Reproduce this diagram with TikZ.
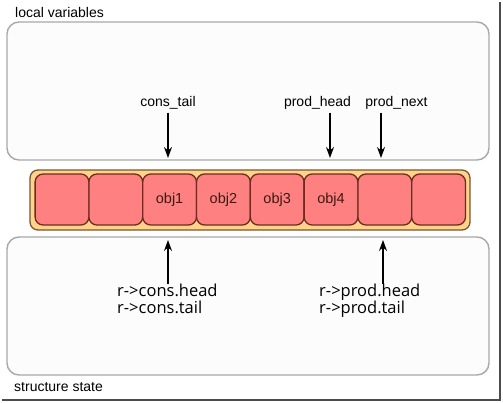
\documentclass[tikz,border=0pt]{standalone}
\usepackage{fontspec}
\setmainfont{Liberation Sans}
\newfontfamily\yafont{Open Sans}
\usetikzlibrary{arrows.meta}

\definecolor{boxline}{HTML}{A8A8A8}
\definecolor{boxfill}{HTML}{FCFCFC}
\definecolor{bandfill}{HTML}{FFD38A}
\definecolor{bandline}{HTML}{7A5630}
\definecolor{cellfill}{HTML}{FF8080}
\definecolor{cellline}{HTML}{6B2E1E}
\definecolor{celltext}{HTML}{3A1A14}

\begin{document}
\begin{tikzpicture}[x=1pt,y=-1pt,
    area/.style={draw=boxline,fill=boxfill,line width=1.4pt,rounded corners=12pt},
    cell/.style={draw=cellline,fill=cellfill,line width=1.3pt,rounded corners=8pt,
      minimum width=53.8pt,minimum height=51pt,inner sep=0pt,outer sep=0pt,
      font=\fontsize{14.5}{16}\selectfont,text=celltext},
    lbl/.style={font=\fontsize{14}{16}\selectfont,inner sep=3pt},
    state/.style={font=\yafont\fontsize{16.5}{17.5}\selectfont,align=left,inner sep=0pt,anchor=north west},
    ptr/.style={-{Stealth[length=11pt,width=8pt]},line width=1.2pt}]
    \useasboundingbox (0,0) rectangle (503,402);

    % frame shadow
    \draw[line width=2pt,gray!60!black] (499.5,2) -- (499.5,399.5) -- (2,399.5);

    \coordinate (T1) at (168,158);
    \coordinate (T2) at (330,158);
    \coordinate (T3) at (381,158);
    \coordinate (B1) at (168,240);
    \coordinate (B2) at (383,240);

    \node[area,minimum width=482pt,minimum height=138pt] (LOCAL) at (248,91) { };
    \node[area,minimum width=482pt,minimum height=138pt] (STATE) at (248,306) { };
    \node[lbl,anchor=west] (LV) at (12,12) { local variables };
    \node[lbl,anchor=west] (SS) at (11,387) { structure state };

    \node[draw=bandline,fill=bandfill,line width=1.3pt,rounded corners=8pt,
      minimum width=440pt,minimum height=60pt] (RING) at (250,200) { };
    \node[cell] (C1) at (62,199.5) { };
    \node[cell] (C2) at (115.8,199.5) { };
    \node[cell] (C3) at (169.6,199.5) { obj1 };
    \node[cell] (C4) at (223.4,199.5) { obj2 };
    \node[cell] (C5) at (277.2,199.5) { obj3 };
    \node[cell] (C6) at (331,199.5) { obj4 };
    \node[cell] (C7) at (384.8,199.5) { };
    \node[cell] (C8) at (438.6,199.5) { };

    \node[lbl] (CT) at (168,103) { cons\_tail };
    \node[lbl] (PH) at (317.5,103) { prod\_head };
    \node[lbl] (PN) at (396.5,103) { prod\_next };

    \node[state] (CONS) at (117,283.5) { r->cons.head\\r->cons.tail };
    \node[state] (PROD) at (319,283.5) { r->prod.head\\r->prod.tail };

    \draw[ptr] (CT.south) -- (T1);
    \draw[ptr] (PH.south -| T2) -- (T2);
    \draw[ptr] (PN.south -| T3) -- (T3);
    \draw[ptr] (CONS.north -| B1) -- (B1);
    \draw[ptr] (PROD.north -| B2) -- (B2);

\end{tikzpicture}
\end{document}
